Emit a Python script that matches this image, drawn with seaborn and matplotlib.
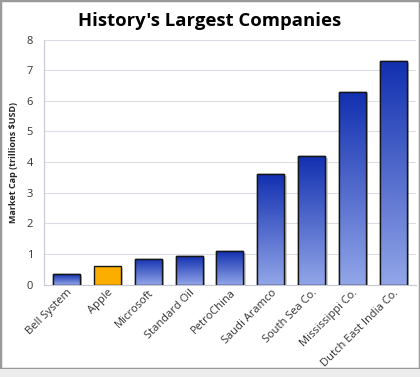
import numpy as np
import pandas as pd
import matplotlib
matplotlib.use('Agg')
import matplotlib.pyplot as plt
import seaborn as sns
from matplotlib.colors import LinearSegmentedColormap

companies = ['Bell System', 'Apple', 'Microsoft', 'Standard Oil', 'PetroChina',
             'Saudi Aramco', 'South Sea Co.', 'Mississippi Co.', 'Dutch East India Co.']
market_cap = [0.35, 0.6, 0.85, 0.93, 1.1, 3.6, 4.2, 6.3, 7.3]
highlight = 'Apple'

df = pd.DataFrame({'company': companies, 'cap': market_cap})

sns.set_style('white')
plt.rcParams['font.family'] = ['Open Sans', 'DejaVu Sans']

fig = plt.figure(figsize=(4.2, 3.77), dpi=100)
ax = fig.add_axes([0.105, 0.245, 0.885, 0.65])

colors = ['#fbae00' if c == highlight else '#3050c8' for c in companies]
sns.barplot(data=df, x='company', y='cap', hue='company', palette=colors, saturation=1,
            legend=False, width=0.66, edgecolor='#151515', linewidth=1.0, ax=ax, zorder=3)

# gradient fill for the blue bars
blue_grad = LinearSegmentedColormap.from_list('bg', ['#92a6e8', '#1230b0'])
grad = np.linspace(0, 1, 256).reshape(-1, 1)
for patch, c in zip(ax.patches, companies):
    x0, y0 = patch.get_x(), patch.get_y()
    w, h = patch.get_width(), patch.get_height()
    # drop shadow
    ax.add_patch(plt.Rectangle((x0 + 0.06, y0), w, h - 0.06, color='#b0b0b0', alpha=0.6,
                               zorder=2, linewidth=0))
    if c == highlight:
        continue
    im = ax.imshow(grad, extent=[x0, x0 + w, y0, y0 + h], origin='lower',
                   cmap=blue_grad, aspect='auto', zorder=3.5)
    im.set_clip_path(patch)
    edge = plt.Rectangle((x0, y0), w, h, fill=False, edgecolor='#151515', linewidth=1.0, zorder=4)
    ax.add_patch(edge)

ax.set_xlim(-0.55, 8.55)
ax.set_ylim(0, 8)
ax.set_yticks(range(0, 9))
ax.yaxis.grid(True, color='#dcdce6', linewidth=0.8, zorder=0)
ax.set_axisbelow(True)
for s in ['top', 'right']:
    ax.spines[s].set_visible(False)
ax.spines['left'].set_color('#c8c8d8')
ax.spines['bottom'].set_color('#c8c8d8')
ax.tick_params(axis='y', labelsize=8, colors='#333333', length=0, pad=8)
ax.tick_params(axis='x', labelsize=8, colors='#333333', length=0, pad=2)
plt.setp(ax.get_xticklabels(), rotation=45, ha='right', rotation_mode='anchor')

ax.set_xlabel('')
ax.set_ylabel('Market Cap (trillions $USD)', fontsize=6.5, fontweight='bold', labelpad=6)
fig.text(0.5, 0.945, "History's Largest Companies", ha='center', va='center',
         fontsize=13.3, fontweight='bold', color='black')

# frame around the figure
fig.patches.append(plt.Rectangle((0, 0.02), 1, 0.98, transform=fig.transFigure, fill=False,
                                 edgecolor='#9a9a9a', linewidth=2.5))
fig.patches.append(plt.Rectangle((0, 0), 1, 0.02, transform=fig.transFigure,
                                 color='#ececec', linewidth=0))

fig.savefig('out.png', dpi=100)
